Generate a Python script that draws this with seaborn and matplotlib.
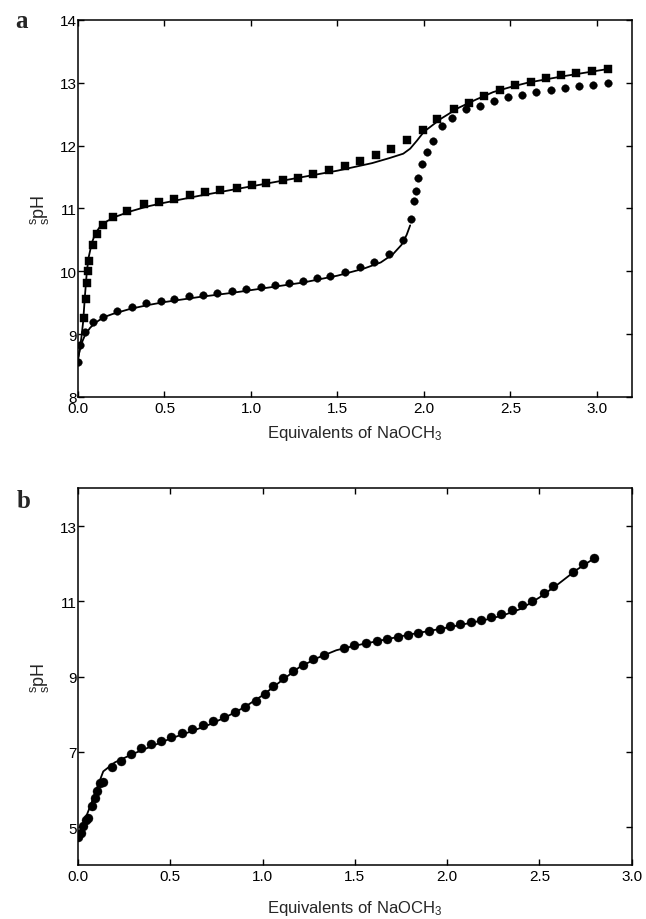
import matplotlib
matplotlib.use("Agg")
import matplotlib.pyplot as plt
import seaborn as sns

# ---------------- panel a data ----------------
# squares
sq_x = [0.035, 0.044, 0.054, 0.057, 0.065, 0.085, 0.108, 0.142, 0.200, 0.283,
        0.381, 0.469, 0.554, 0.646, 0.735, 0.823, 0.917, 1.008, 1.089, 1.183,
        1.271, 1.358, 1.451, 1.545, 1.631, 1.724, 1.810, 1.903, 1.993, 2.076,
        2.172, 2.260, 2.347, 2.439, 2.527, 2.616, 2.704, 2.791, 2.878, 2.970,
        3.062]
sq_y = [9.26, 9.56, 9.82, 10.00, 10.16, 10.42, 10.59, 10.74, 10.86, 10.96,
        11.07, 11.10, 11.15, 11.22, 11.26, 11.29, 11.33, 11.37, 11.41, 11.45,
        11.49, 11.55, 11.61, 11.68, 11.75, 11.85, 11.95, 12.08, 12.25, 12.42,
        12.58, 12.68, 12.79, 12.89, 12.96, 13.01, 13.07, 13.12, 13.16, 13.19,
        13.22]

# circles
ci_x = [0.002, 0.012, 0.040, 0.085, 0.146, 0.227, 0.313, 0.396, 0.479, 0.556,
        0.640, 0.723, 0.806, 0.891, 0.974, 1.056, 1.139, 1.220, 1.300, 1.383,
        1.459, 1.546, 1.631, 1.712, 1.795, 1.881, 1.925, 1.944, 1.956, 1.968,
        1.991, 2.016, 2.054, 2.106, 2.160, 2.243, 2.322, 2.403, 2.485, 2.568,
        2.650, 2.733, 2.814, 2.897, 2.977, 3.062]
ci_y = [8.56, 8.82, 9.03, 9.19, 9.28, 9.37, 9.43, 9.49, 9.53, 9.56,
        9.60, 9.63, 9.66, 9.69, 9.72, 9.75, 9.78, 9.81, 9.85, 9.89,
        9.93, 9.99, 10.06, 10.14, 10.27, 10.50, 10.83, 11.11, 11.27, 11.49,
        11.71, 11.90, 12.07, 12.31, 12.44, 12.58, 12.63, 12.71, 12.77, 12.81,
        12.85, 12.89, 12.91, 12.95, 12.97, 13.00]

# fitted curves
fit1_x = [0.0, 0.01, 0.02, 0.03, 0.04, 0.05, 0.06, 0.08, 0.10, 0.13, 0.17, 0.22,
          0.30, 0.40, 0.50, 0.70, 0.90, 1.10, 1.30, 1.50, 1.70, 1.80, 1.88,
          1.92, 1.96, 2.00, 2.10, 2.20, 2.30, 2.40, 2.50, 2.60, 2.80, 3.07]
fit1_y = [8.60, 8.75, 8.95, 9.20, 9.60, 9.95, 10.20, 10.45, 10.60, 10.72, 10.80,
          10.87, 10.95, 11.03, 11.09, 11.20, 11.30, 11.40, 11.50, 11.60, 11.72,
          11.80, 11.87, 11.95, 12.08, 12.22, 12.43, 12.60, 12.73, 12.85, 12.93,
          13.00, 13.10, 13.22]

fit2_x = [0.0, 0.01, 0.02, 0.04, 0.07, 0.10, 0.15, 0.20, 0.30, 0.40, 0.50, 0.70,
          0.90, 1.10, 1.30, 1.50, 1.65, 1.75, 1.82, 1.87, 1.90, 1.92]
fit2_y = [8.60, 8.75, 8.85, 8.98, 9.10, 9.18, 9.27, 9.32, 9.40, 9.46, 9.51, 9.59,
          9.66, 9.74, 9.82, 9.93, 10.04, 10.14, 10.27, 10.42, 10.58, 10.73]

# ---------------- panel b data ----------------
b_x = [0.002, 0.014, 0.029, 0.043, 0.052, 0.074, 0.092, 0.104, 0.119, 0.133,
       0.187, 0.231, 0.286, 0.344, 0.398, 0.452, 0.506, 0.564, 0.620, 0.677,
       0.732, 0.789, 0.849, 0.906, 0.962, 1.014, 1.059, 1.110, 1.164, 1.218,
       1.276, 1.335, 1.443, 1.497, 1.560, 1.618, 1.674, 1.732, 1.786, 1.843,
       1.903, 1.960, 2.016, 2.072, 2.128, 2.184, 2.238, 2.294, 2.350, 2.404,
       2.461, 2.526, 2.575, 2.681, 2.737, 2.796]
b_y = [4.74, 4.84, 5.02, 5.20, 5.24, 5.55, 5.77, 5.97, 6.17, 6.21,
       6.59, 6.76, 6.94, 7.09, 7.20, 7.29, 7.39, 7.50, 7.60, 7.70,
       7.82, 7.93, 8.07, 8.20, 8.35, 8.53, 8.75, 8.95, 9.15, 9.30,
       9.46, 9.58, 9.76, 9.83, 9.89, 9.95, 10.01, 10.06, 10.11, 10.16,
       10.21, 10.27, 10.34, 10.40, 10.45, 10.50, 10.58, 10.67, 10.77, 10.89,
       11.02, 11.22, 11.41, 11.78, 11.98, 12.15]

fitb_x = [0.0, 0.03, 0.07, 0.10, 0.137, 0.20, 0.30, 0.40, 0.50, 0.60, 0.70, 0.80,
          0.90, 1.00, 1.10, 1.20, 1.30, 1.40, 1.50, 1.60, 1.70, 1.80, 1.90,
          2.00, 2.10, 2.20, 2.30, 2.40, 2.50, 2.60, 2.70, 2.80]
fitb_y = [4.70, 5.10, 5.60, 6.00, 6.48, 6.72, 6.95, 7.15, 7.35, 7.52, 7.70, 7.92,
          8.18, 8.50, 8.88, 9.25, 9.50, 9.70, 9.82, 9.92, 10.02, 10.12, 10.21,
          10.30, 10.40, 10.50, 10.62, 10.80, 11.10, 11.45, 11.83, 12.15]

x_ticks = [0.0, 0.5, 1.0, 1.5, 2.0, 2.5, 3.0]
x_ticklabels = ["0.0", "0.5", "1.0", "1.5", "2.0", "2.5", "3.0"]

sns.set_style("ticks")
plt.rcParams["font.family"] = ["Liberation Sans", "DejaVu Sans"]
plt.rcParams["mathtext.fontset"] = "custom"
plt.rcParams["mathtext.rm"] = "Liberation Sans"
plt.rcParams["mathtext.it"] = "Liberation Sans:italic"
plt.rcParams["axes.linewidth"] = 1.1

fig = plt.figure(figsize=(6.46, 9.2), dpi=100)
ax_a = fig.add_axes([0.1207, 0.5674, 0.857, 0.410])
ax_b = fig.add_axes([0.1207, 0.0590, 0.857, 0.409])

ylabel = r"${}^{\mathrm{s}}_{\mathrm{s}}\mathrm{pH}$"
xlabel = r"Equivalents of NaOCH$_3$"

# panel a
sns.lineplot(x=fit1_x, y=fit1_y, ax=ax_a, color="black", linewidth=1.3,
             sort=False, estimator=None)
sns.lineplot(x=fit2_x, y=fit2_y, ax=ax_a, color="black", linewidth=1.3,
             sort=False, estimator=None)
sns.scatterplot(x=sq_x, y=sq_y, ax=ax_a, marker="s", s=26, color="black",
                edgecolor="black", linewidth=0.3, zorder=3)
sns.scatterplot(x=ci_x, y=ci_y, ax=ax_a, marker="o", s=30, color="black",
                edgecolor="black", linewidth=0.3, zorder=3)
ax_a.set_xlim(0, 3.2)
ax_a.set_ylim(8, 14)
ax_a.set_xticks(x_ticks)
ax_a.set_xticklabels(x_ticklabels)
ax_a.set_yticks([8, 9, 10, 11, 12, 13, 14])

# panel b
sns.lineplot(x=fitb_x, y=fitb_y, ax=ax_b, color="black", linewidth=1.3,
             sort=False, estimator=None)
sns.scatterplot(x=b_x, y=b_y, ax=ax_b, marker="o", s=42, color="black",
                edgecolor="black", linewidth=0.3, zorder=3)
ax_b.set_xlim(0, 3.0)
ax_b.set_ylim(4, 14)
ax_b.set_xticks(x_ticks)
ax_b.set_xticklabels(x_ticklabels)
ax_b.set_yticks([5, 7, 9, 11, 13])

for ax in (ax_a, ax_b):
    ax.tick_params(axis="both", which="major", direction="in", length=4,
                   width=1.0, labelsize=11, top=True, right=True, pad=3,
                   color="black", labelcolor="black")
    ax.tick_params(axis="y", pad=1)
    for sp in ax.spines.values():
        sp.set_visible(True)
        sp.set_color("black")
    ax.set_ylabel(ylabel, fontsize=13, labelpad=6)

ax_a.set_xlabel(xlabel, fontsize=12, labelpad=6)
ax_b.set_xlabel(xlabel, fontsize=12, labelpad=11)

fig.text(0.023, 0.9696, "a", fontsize=18, fontweight="bold",
         family="Liberation Serif", va="baseline")
fig.text(0.026, 0.4478, "b", fontsize=18, fontweight="bold",
         family="Liberation Serif", va="baseline")

fig.savefig("out.png", dpi=100)
